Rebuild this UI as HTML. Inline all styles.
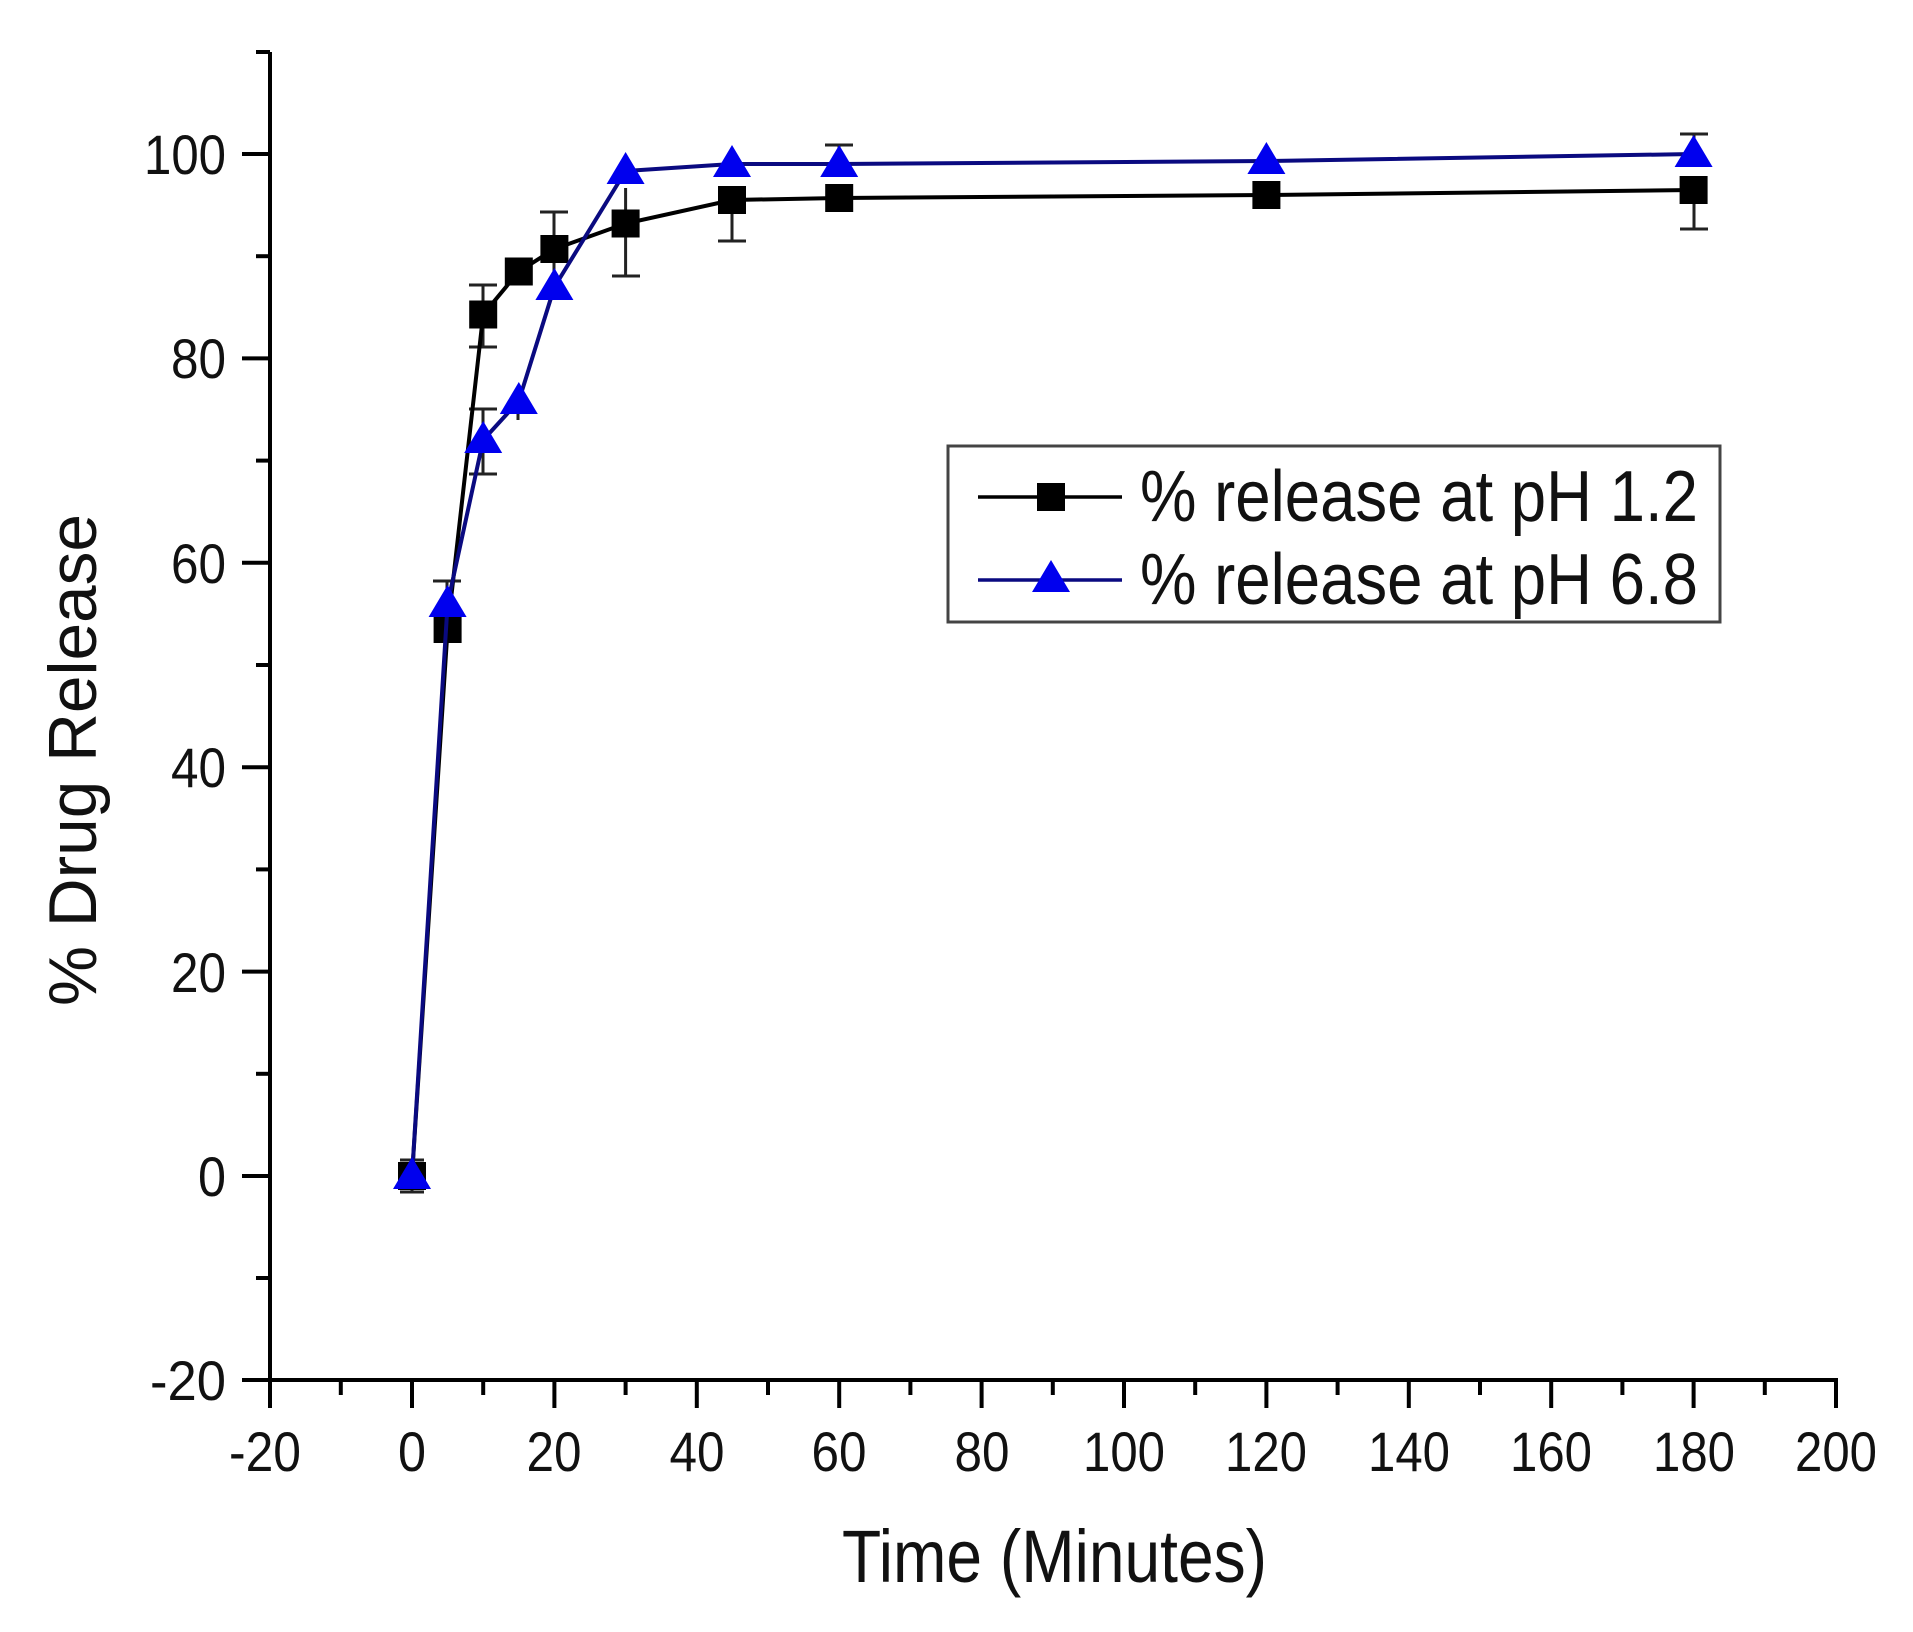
<!DOCTYPE html>
<html><head><meta charset="utf-8"><style>
html,body{margin:0;padding:0;background:#fff;}
svg{display:block;}
text{font-family:"Liberation Sans",sans-serif;fill:#111;}
</style></head><body>
<svg width="1913" height="1632" viewBox="0 0 1913 1632" xmlns="http://www.w3.org/2000/svg">
<rect width="1913" height="1632" fill="#fff"/>
<g stroke="#000" stroke-width="4" fill="none">
<line x1="270" y1="52" x2="270" y2="1382"/>
<line x1="268" y1="1380" x2="1838" y2="1380"/>
<line x1="242" y1="1380" x2="270" y2="1380"/>
<line x1="242" y1="1176" x2="270" y2="1176"/>
<line x1="242" y1="971.6" x2="270" y2="971.6"/>
<line x1="242" y1="767.2" x2="270" y2="767.2"/>
<line x1="242" y1="562.8" x2="270" y2="562.8"/>
<line x1="242" y1="358.4" x2="270" y2="358.4"/>
<line x1="242" y1="154" x2="270" y2="154"/>
<line x1="256" y1="1278" x2="270" y2="1278"/>
<line x1="256" y1="1073.8" x2="270" y2="1073.8"/>
<line x1="256" y1="869.4" x2="270" y2="869.4"/>
<line x1="256" y1="665" x2="270" y2="665"/>
<line x1="256" y1="460.6" x2="270" y2="460.6"/>
<line x1="256" y1="256.2" x2="270" y2="256.2"/>
<line x1="256" y1="52" x2="270" y2="52"/>
<line x1="270" y1="1380" x2="270" y2="1408"/>
<line x1="412" y1="1380" x2="412" y2="1408"/>
<line x1="554.4" y1="1380" x2="554.4" y2="1408"/>
<line x1="696.8" y1="1380" x2="696.8" y2="1408"/>
<line x1="839.2" y1="1380" x2="839.2" y2="1408"/>
<line x1="981.6" y1="1380" x2="981.6" y2="1408"/>
<line x1="1124" y1="1380" x2="1124" y2="1408"/>
<line x1="1266.4" y1="1380" x2="1266.4" y2="1408"/>
<line x1="1408.8" y1="1380" x2="1408.8" y2="1408"/>
<line x1="1551.2" y1="1380" x2="1551.2" y2="1408"/>
<line x1="1693.6" y1="1380" x2="1693.6" y2="1408"/>
<line x1="1836" y1="1380" x2="1836" y2="1408"/>
<line x1="340.8" y1="1380" x2="340.8" y2="1395"/>
<line x1="483.2" y1="1380" x2="483.2" y2="1395"/>
<line x1="625.6" y1="1380" x2="625.6" y2="1395"/>
<line x1="768" y1="1380" x2="768" y2="1395"/>
<line x1="910.4" y1="1380" x2="910.4" y2="1395"/>
<line x1="1052.8" y1="1380" x2="1052.8" y2="1395"/>
<line x1="1195.2" y1="1380" x2="1195.2" y2="1395"/>
<line x1="1337.6" y1="1380" x2="1337.6" y2="1395"/>
<line x1="1480" y1="1380" x2="1480" y2="1395"/>
<line x1="1622.4" y1="1380" x2="1622.4" y2="1395"/>
<line x1="1764.8" y1="1380" x2="1764.8" y2="1395"/>
</g>
<g font-size="56" text-anchor="end">
<text x="226" y="1400" textLength="76" lengthAdjust="spacingAndGlyphs">-20</text>
<text x="226" y="1196" textLength="28" lengthAdjust="spacingAndGlyphs">0</text>
<text x="226" y="992" textLength="55" lengthAdjust="spacingAndGlyphs">20</text>
<text x="226" y="787" textLength="55" lengthAdjust="spacingAndGlyphs">40</text>
<text x="226" y="583" textLength="55" lengthAdjust="spacingAndGlyphs">60</text>
<text x="226" y="378" textLength="55" lengthAdjust="spacingAndGlyphs">80</text>
<text x="226" y="174" textLength="82" lengthAdjust="spacingAndGlyphs">100</text>
</g>
<g font-size="56" text-anchor="middle">
<text x="265" y="1471" textLength="72" lengthAdjust="spacingAndGlyphs">-20</text>
<text x="412" y="1471" textLength="28" lengthAdjust="spacingAndGlyphs">0</text>
<text x="554" y="1471" textLength="55" lengthAdjust="spacingAndGlyphs">20</text>
<text x="697" y="1471" textLength="55" lengthAdjust="spacingAndGlyphs">40</text>
<text x="839" y="1471" textLength="55" lengthAdjust="spacingAndGlyphs">60</text>
<text x="982" y="1471" textLength="55" lengthAdjust="spacingAndGlyphs">80</text>
<text x="1124" y="1471" textLength="82" lengthAdjust="spacingAndGlyphs">100</text>
<text x="1266" y="1471" textLength="82" lengthAdjust="spacingAndGlyphs">120</text>
<text x="1409" y="1471" textLength="82" lengthAdjust="spacingAndGlyphs">140</text>
<text x="1551" y="1471" textLength="82" lengthAdjust="spacingAndGlyphs">160</text>
<text x="1694" y="1471" textLength="82" lengthAdjust="spacingAndGlyphs">180</text>
<text x="1836" y="1471" textLength="82" lengthAdjust="spacingAndGlyphs">200</text>
</g>
<text x="842" y="1582" font-size="74" textLength="425" lengthAdjust="spacingAndGlyphs">Time (Minutes)</text>
<text transform="translate(96,1006) rotate(-90)" font-size="68" textLength="492" lengthAdjust="spacingAndGlyphs">% Drug Release</text>

<g stroke="#222" stroke-width="3">
<line x1="412" y1="1160" x2="412" y2="1192"/><line x1="400" y1="1160" x2="424" y2="1160"/><line x1="400" y1="1192" x2="424" y2="1192"/>
<line x1="483" y1="285" x2="483" y2="347"/><line x1="469" y1="285" x2="497" y2="285"/><line x1="469" y1="347" x2="497" y2="347"/>
<line x1="554" y1="212" x2="554" y2="283"/><line x1="540" y1="212" x2="568" y2="212"/>
<line x1="625.6" y1="188" x2="625.6" y2="276"/><line x1="612" y1="276" x2="640" y2="276"/>
<line x1="732" y1="200" x2="732" y2="241"/><line x1="718" y1="241" x2="746" y2="241"/>
<line x1="1694" y1="190" x2="1694" y2="229"/><line x1="1680" y1="229" x2="1708" y2="229"/>
<line x1="483" y1="409" x2="483" y2="474"/><line x1="469" y1="409" x2="497" y2="409"/><line x1="469" y1="474" x2="497" y2="474"/>
<line x1="447" y1="581" x2="447" y2="636"/><line x1="433" y1="581" x2="461" y2="581"/>
<line x1="518" y1="391" x2="518" y2="420"/>
<line x1="839" y1="145" x2="839" y2="170"/><line x1="825" y1="145" x2="853" y2="145"/>
<line x1="1694" y1="134" x2="1694" y2="160"/><line x1="1680" y1="134" x2="1708" y2="134"/>
</g>
<polyline fill="none" stroke="#000" stroke-width="4" points="412,1176 447.6,629 483.2,314.5 518.8,271.5 554.4,249 625.6,223.5 732,200 839.2,198 1266.4,195 1693.6,190"/>
<g fill="#000">
<rect x="398" y="1162" width="28" height="28"/>
<rect x="433.6" y="615" width="28" height="28"/>
<rect x="469.2" y="300.5" width="28" height="28"/>
<rect x="504.8" y="257.5" width="28" height="28"/>
<rect x="540.4" y="235" width="28" height="28"/>
<rect x="611.6" y="209.5" width="28" height="28"/>
<rect x="718" y="186" width="28" height="28"/>
<rect x="825.2" y="184" width="28" height="28"/>
<rect x="1252.4" y="181" width="28" height="28"/>
<rect x="1679.6" y="176" width="28" height="28"/>
</g>
<polyline fill="none" stroke="#0a0a80" stroke-width="4" points="412,1176 447.6,603.7 483.2,440 518.8,401 554.4,287 625.6,171 732,164 839.2,164 1266.4,161 1693.6,154"/>
<g fill="#0000ee">
<polygon points="412,1157 431,1189 393,1189"/>
<polygon points="447.6,585 466.6,617 428.6,617"/>
<polygon points="483.2,421 502.2,453 464.2,453"/>
<polygon points="518.8,382 537.8,414 499.8,414"/>
<polygon points="554.4,268 573.4,300 535.4,300"/>
<polygon points="625.6,152 644.6,184 606.6,184"/>
<polygon points="732,145 751,177 713,177"/>
<polygon points="839.2,145 858.2,177 820.2,177"/>
<polygon points="1266.4,142 1285.4,174 1247.4,174"/>
<polygon points="1693.6,135 1712.6,167 1674.6,167"/>
</g>
<rect x="948" y="446" width="772" height="176" fill="#fff" stroke="#444" stroke-width="3"/>
<line x1="978" y1="497" x2="1122" y2="497" stroke="#000" stroke-width="3.5"/>
<rect x="1037" y="483" width="28" height="28" fill="#000"/>
<line x1="978" y1="580" x2="1122" y2="580" stroke="#0a0a80" stroke-width="3.5"/>
<polygon points="1051,560 1070,592 1032,592" fill="#0000ee"/>
<text x="1140" y="521" font-size="72" textLength="558" lengthAdjust="spacingAndGlyphs">% release at pH 1.2</text>
<text x="1140" y="604" font-size="72" textLength="558" lengthAdjust="spacingAndGlyphs">% release at pH 6.8</text>
</svg>
</body></html>
